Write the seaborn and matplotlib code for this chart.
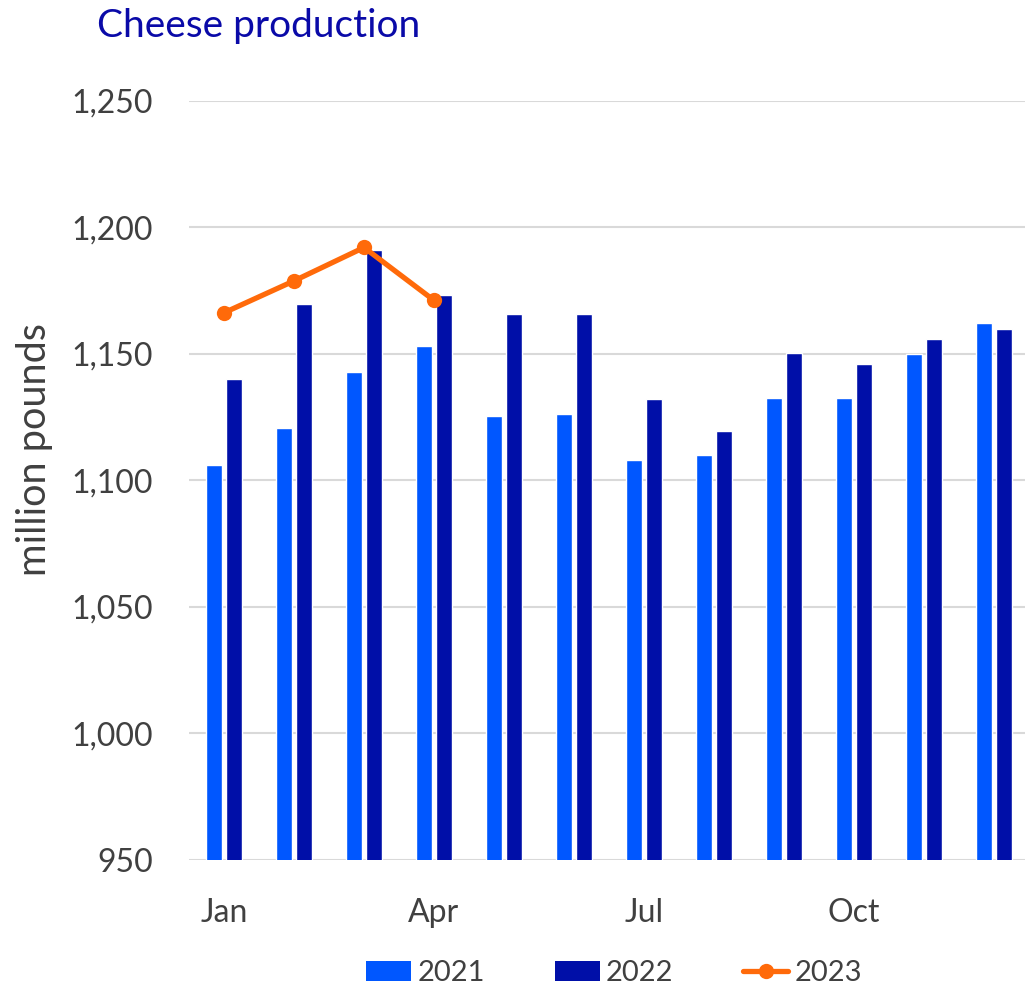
import numpy as np
import pandas as pd
import matplotlib
matplotlib.use("Agg")
import matplotlib.pyplot as plt
from matplotlib.patches import Patch
from matplotlib.lines import Line2D
import seaborn as sns

months = ["Jan", "Feb", "Mar", "Apr", "May", "Jun",
          "Jul", "Aug", "Sep", "Oct", "Nov", "Dec"]
prod_2021 = [1106, 1120.6, 1143, 1153, 1125.4, 1126.2,
             1108.2, 1110, 1132.6, 1132.6, 1150, 1162.3]
prod_2022 = [1140, 1169.8, 1191.2, 1173.3, 1165.7, 1165.7,
             1132.4, 1119.7, 1150.5, 1146, 1156, 1159.7]
prod_2023 = [1166.3, 1178.9, 1192.1, 1171.2]
shown_ticks = ["Jan", "Apr", "Jul", "Oct"]
yticks = [950, 1000, 1050, 1100, 1150, 1200, 1250]

c21, c22, c23 = "#0057FF", "#000FA8", "#FF6A0A"
text_col = "#404040"

sns.set_theme(style="white")
plt.rcParams["font.family"] = ["Lato", "DejaVu Sans"]

bars = pd.DataFrame({
    "month": months * 2,
    "value": prod_2021 + prod_2022,
    "year": ["2021"] * 12 + ["2022"] * 12,
})

fig = plt.figure(figsize=(10.25, 9.89), dpi=100)
ax = fig.add_axes([189 / 1025, 1 - 860 / 989, 840 / 1025, 759 / 989])

sns.barplot(data=bars, x="month", y="value", hue="year", order=months,
            hue_order=["2021", "2022"], palette=[c21, c22], saturation=1,
            width=0.571, gap=0.2, legend=False, ax=ax, zorder=2)
ax.set_ylim(950, 1250)
sns.lineplot(x=np.arange(len(prod_2023)), y=prod_2023, color=c23,
             linewidth=3.8, marker="o", markersize=11, markeredgewidth=0,
             ax=ax, zorder=3)

ax.set_xlim(-0.5, 11.5)
ax.set_yticks(yticks)
ax.set_yticklabels([f"{v:,}" for v in yticks])
ax.set_xticks([months.index(m) for m in shown_ticks])
ax.set_xticklabels(shown_ticks)
ax.tick_params(axis="both", length=0, labelsize=23, labelcolor=text_col)
ax.tick_params(axis="y", pad=26)
ax.tick_params(axis="x", pad=27)
ax.grid(axis="y", color="#D9D9D9", linewidth=1.5, zorder=0)
ax.set_axisbelow(True)
for s in ax.spines.values():
    s.set_visible(False)
ax.set_xlabel("")
ax.set_ylabel("")

fig.text(35 / 1025, 1 - 450 / 989, "million pounds", rotation=90,
         ha="center", va="center", fontsize=28.5, color=text_col)
fig.text(97 / 1025, 1 - 37 / 989, "Cheese production", ha="left",
         va="baseline", fontsize=28, color="#0A0AA8")

handles = [
    Patch(facecolor=c21, edgecolor="none"),
    Patch(facecolor=c22, edgecolor="none"),
    Line2D([0], [0], color=c23, linewidth=3.8, marker="o", markersize=11,
           markeredgewidth=0),
]
fig.legend(handles, ["2021", "2022", "2023"], loc="center",
           bbox_to_anchor=(614 / 1025, 1 - 973 / 989), ncol=3, frameon=False,
           fontsize=21, labelcolor=text_col, handlelength=1.55,
           handletextpad=0.2, columnspacing=2.4, borderpad=0)

fig.savefig("out.png", dpi=100)
